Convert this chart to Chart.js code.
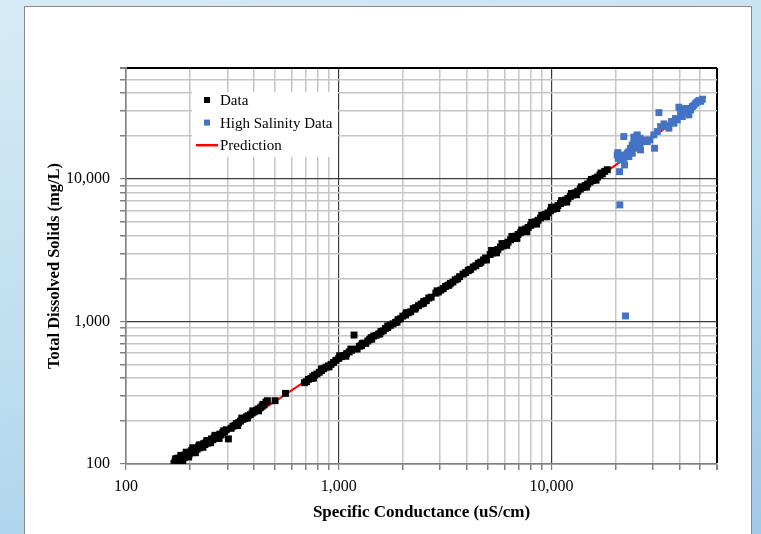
<!DOCTYPE html>
<html>
<head>
<meta charset="utf-8">
<script src="https://cdn.jsdelivr.net/npm/chart.js@4.4.1/dist/chart.umd.min.js"></script>
<style>
  html, body { margin: 0; padding: 0; width: 761px; height: 534px; overflow: hidden; }
  body { background: linear-gradient(165deg, #d6ebf6 0%, #bcdcef 55%, #9fcae7 100%); }
  #panel { position: absolute; left: 24px; top: 6px; width: 726px; height: 540px; background: #fff; border: 1px solid #8c8c8c; }
  #chart { display: block; }
</style>
</head>
<body>
<div id="panel"><canvas id="chart" width="726" height="528"></canvas></div>
<script>
/* Data */
const dataSC = [
  168,170,171,172,173,175,176,178,180,182,184,186,188,190,193,195,198,200,203,205,
  208,210,213,216,219,222,225,228,232,235,238,242,245,248,252,256,260,264,268,272,
  276,280,285,290,296,303,
  172,176,181,185,192,197,206,212,221,230,240,250,262,274,288,
  312,318,325,330,338,345,352,360,368,375,384,392,400,410,418,428,436,445,455,462,
  335,350,372,395,420,440,
  502,562,
  690,705,720,740,755,770,790,810,830,850,870,895,920,945,970,1000,1030,1060,1090,1120,1150,
  760,830,900,1010,1080,1140,
  1180,
  1220,1250,1280,1310,1340,1370,1400,1430,1460,1500,1540,1580,1620,1660,1700,1750,1800,1850,1900,1950,
  2000,2060,2120,2180,2240,2300,2370,2440,2510,2580,2650,2720,2860,2940,3020,3100,3180,3260,3350,3440,
  3530,3620,3840,3950,4060,4170,4290,4410,4530,4660,4790,5150,5300,5450,5600,5760,5920,6080,6250,6420,
  6600,6780,6970,7160,7360,7560,7770,7980,8200,8420,8650,8890,9130,9380,9640,9900,10170,10450,10730,11020,
  11320,11630,11950,12270,12600,12950,13300,13660,14030,14410,14800,15200,15610,16030,16460,16900,17350,17800,18300,
  1290,1420,1560,1700,1880,2080,2280,2500,2900,3300,3700,4100,4600,4900,4950,
  5230,5520,5850,6160,6520,6880,7250,7650,8080,8520,9000,9500,10000,10600,11150,11800,12400,13100,13800,14600,
  15400,16200,17100
];
const dataTDS = [
  101,104,108,100,106,103,110,105,108,112,109,114,111,116,113,119,117,121,124,120,
  126,123,129,127,132,130,136,133,139,137,142,140,146,144,150,148,154,152,158,156,
  162,160,166,169,174,150,
  109,101,115,105,121,112,130,120,136,131,146,141,159,151,171,
  178,184,186,192,195,200,205,208,214,218,222,228,232,238,243,248,254,260,272,278,
  186,210,210,236,236,262,
  278,313,
  372,378,392,398,410,420,428,440,452,466,478,488,500,515,534,550,566,578,596,612,628,
  400,465,480,575,570,640,
  803,
  640,670,676,705,702,730,748,752,790,800,815,850,860,895,905,940,962,985,1030,1045,
  1090,1110,1150,1170,1230,1250,1290,1325,1380,1400,1460,1480,1580,1610,1660,1700,1760,1790,1850,1890,
  1960,1990,2150,2200,2270,2320,2410,2460,2550,2610,2700,2950,3020,3140,3200,3330,3390,3520,3600,3740,
  3830,3960,4080,4200,4300,4450,4560,4720,4840,5000,5130,5320,5450,5640,5780,5980,6120,6330,6500,6720,
  6880,7110,7290,7540,7720,7990,8200,8480,8700,8980,9220,9520,9750,10100,10300,10650,10850,11300,11600,
  700,770,820,930,990,1150,1220,1340,1640,1800,2060,2300,2570,2790,2700,
  3150,3030,3520,3420,3950,3820,4380,4260,4960,4820,5560,5420,6330,6200,7040,6880,7900,7740,8800,8760,
  9920,9800,11000
];

const highSC = [
  20960,20900,22060,20370,20600,21880,22290,
  22290,22710,23110,23540,23980,24400,24850,25120,25310,25760,26240,26720,27190,28200,29010,
  23980,23110,24850,25480,21510,20510,21120,21880,24400,26030,25310,
  30530,30280,31440,32600,33790,35650,37630,39040,32000,
  39720,40460,41950,43510,45080,45920,47640,49390,51190,44270,41210,
  48500,50300,46800,42800,38300,34800,36700
];
const highTDS = [
  6570,11250,12530,14720,13960,19820,1093,
  14340,15140,15540,16410,17320,17800,18790,19820,18300,16860,15980,18300,18790,18300,18790,
  15140,14340,16410,17320,14720,15300,13590,13960,19620,19280,20370,
  16420,20370,21480,23280,24330,22690,24590,25940,29180,
  31850,28910,30470,29680,30470,32150,33940,35450,36240,28130,27370,
  34800,35000,32900,31200,26500,23600,25300
];

const predSC = [170, 300, 530, 1000, 2000, 5000, 10000, 20000, 30000, 40000, 53000];
const predTDS = [98, 168, 290, 550, 1100, 2870, 6000, 12500, 19600, 27000, 37800];

/* Axes */
const gridTicks = [
  100,200,300,400,500,600,700,800,900,
  1000,2000,3000,4000,5000,6000,7000,8000,9000,
  10000,20000,30000,40000,50000,60000
];
const labeledTicks = [100, 1000, 10000];
const axisMin = 100, axisMax = 60000;

const FONT = "'Liberation Serif', 'Times New Roman', serif";

const toPoints = (xs, ys) => xs.map((x, i) => ({ x, y: ys[i] }));

/* grid colour per tick */
const gridColor = ctx => {
  const v = ctx.tick && ctx.tick.value;
  if (v === axisMax) return "#000000";
  if (labeledTicks.includes(v)) return "#3c3c3c";
  return "#c6c6c6";
};
const gridWidth = ctx => {
  const v = ctx.tick && ctx.tick.value;
  if (v === axisMax) return 2;
  if (labeledTicks.includes(v)) return 1.2;
  return 1.5;
};

/* Legend drawn inside the plot */
const insideLegend = {
  id: "insideLegend",
  afterDraw(chart) {
    const ctx = chart.ctx;
    const box = { x: 167, y: 85, w: 146, h: 65 };
    ctx.save();
    ctx.fillStyle = "#ffffff";
    ctx.fillRect(box.x, box.y, box.w, box.h);
    ctx.font = "15px " + FONT;
    ctx.textBaseline = "middle";
    ctx.textAlign = "left";
    chart.data.datasets.forEach((ds, i) => {
      const y = 93 + i * 22.6;
      if (ds.showLine) {
        ctx.strokeStyle = ds.borderColor;
        ctx.lineWidth = 2.5;
        ctx.beginPath();
        ctx.moveTo(171, y);
        ctx.lineTo(193, y);
        ctx.stroke();
      } else {
        ctx.fillStyle = ds.pointBackgroundColor;
        ctx.fillRect(179, y - 3, 6, 6);
      }
      ctx.fillStyle = "#000000";
      ctx.fillText(ds.label, 195, y + 1);
    });
    ctx.restore();
  }
};

const scaleBase = (title, fontSize) => ({
  type: "logarithmic",
  min: axisMin,
  max: axisMax,
  afterBuildTicks: scale => { scale.ticks = gridTicks.map(v => ({ value: v })); },
  grid: { color: gridColor, lineWidth: gridWidth, tickColor: "#808080", tickLength: 6 },
  border: { color: "#808080", width: 1.5 },
  ticks: {
    autoSkip: false,
    maxRotation: 0,
    minRotation: 0,
    color: "#000000",
    font: { family: FONT, size: 16 },
    callback: v => labeledTicks.includes(v) ? v.toLocaleString("en-US") : ""
  },
  title: {
    display: true,
    text: title,
    color: "#000000",
    font: { family: FONT, size: fontSize, weight: "bold" }
  }
});

const xScale = scaleBase("Specific Conductance (uS/cm)", 17);
xScale.ticks.padding = 7;
xScale.afterFit = scale => { scale.height = 63; };

const yScale = scaleBase("Total Dissolved Solids (mg/L)", 16.5);
yScale.ticks.padding = 10;
yScale.afterFit = scale => { scale.width = 85; };

new Chart(document.getElementById("chart"), {
  type: "scatter",
  data: {
    datasets: [
      {
        label: "Data",
        data: toPoints(dataSC, dataTDS),
        pointStyle: "rect",
        pointRadius: 4.9,
        pointBorderWidth: 0,
        pointBackgroundColor: "#000000",
        backgroundColor: "#000000"
      },
      {
        label: "High Salinity Data",
        data: toPoints(highSC, highTDS),
        pointStyle: "rect",
        pointRadius: 4.9,
        pointBorderWidth: 0,
        pointBackgroundColor: "#4472c4",
        backgroundColor: "#4472c4"
      },
      {
        label: "Prediction",
        data: toPoints(predSC, predTDS),
        showLine: true,
        borderColor: "#ff0000",
        borderWidth: 2,
        pointRadius: 0,
        fill: false
      }
    ]
  },
  options: {
    responsive: false,
    animation: false,
    layout: { padding: { left: 16, right: 34, top: 61, bottom: 8 } },
    plugins: { legend: { display: false }, tooltip: { enabled: false } },
    scales: { x: xScale, y: yScale }
  },
  plugins: [insideLegend]
});
</script>
</body>
</html>
